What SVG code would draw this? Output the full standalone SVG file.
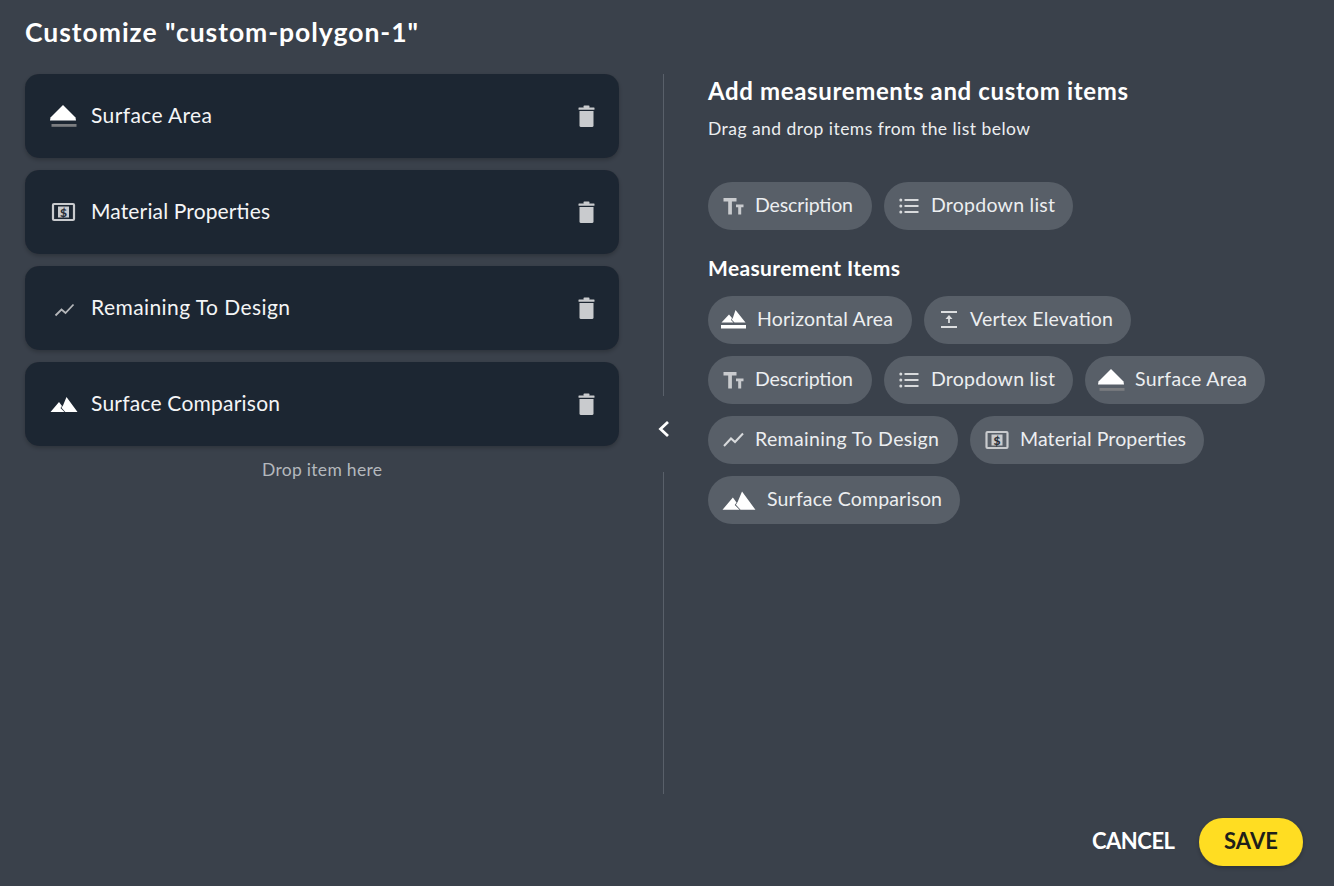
<svg xmlns="http://www.w3.org/2000/svg" width="1334" height="886" viewBox="0 0 1334 886">
<style>
text{font-family:"Lato","Noto Sans","Liberation Sans",sans-serif}
.card{fill:#1f2733;filter:url(#sh)}
.chip{fill:#585f68}
.ct{font-size:21px;fill:#f4f5f6}
.cl{font-size:19.5px;fill:#eceef0}
.div{stroke:#59606a;stroke-width:1;fill:none}
.ic{fill:#c9cbce}
.w{fill:#fff}
</style>
<defs>
<filter id="sh" x="-5%" y="-10%" width="110%" height="125%"><feDropShadow dx="0" dy="2" stdDeviation="2" flood-color="#000" flood-opacity=".22"/></filter>
<filter id="sh2" x="-15%" y="-20%" width="130%" height="150%"><feDropShadow dx="0" dy="2" stdDeviation="2" flood-color="#000" flood-opacity=".25"/></filter>
<g id="i-surface"><path class="w" d="M0 12.500 12.500 0 25 12.500 25.500 15.500H-.5z"/><rect x="1" y="19" width="25" height="2.800" fill="#7b7d80"/></g>
<g id="i-money"><rect x="1" y="1" width="21" height="16" rx="1" fill="none" stroke="#c9cbce" stroke-width="2.200"/><rect x="6" y="3.500" width="11" height="11" fill="#c9cbce"/><text x="11.500" y="13.500" font-size="12" font-weight="900" text-anchor="middle" fill="#2a3039">$</text></g>
<path id="i-trend" d="M0 12.500 6 6.500 10 10 18 1.500" fill="none" stroke="#b5b7ba" stroke-width="1.800"/>
<path id="i-mount" d="M0 15 8.500 5 11.500 9 10 11 14 15zM14.800 15 11 10.800 12.500 8.500 16 0 27 15z" fill="#fff"/>
<g id="i-tt"><path class="ic" d="M0 0h13v3.500H8.400v13H4.700v-13H0zM12.500 6.500H20v2.700h-2.300v7.300h-3v-7.300h-2.200z"/></g>
<g id="i-list" fill="#d8dadc"><circle cx="1.300" cy="1.500" r="1.500"/><circle cx="1.300" cy="7.500" r="1.500"/><circle cx="1.300" cy="13.500" r="1.500"/><rect x="5" y=".5" width="14" height="2"/><rect x="5" y="6.500" width="14" height="2"/><rect x="5" y="12.500" width="14" height="2"/></g>
<g id="i-trash" fill="#c9cbce"><path d="M1 6h14v14.500a1.500 1.500 0 0 1-1.500 1.500h-11A1.500 1.500 0 0 1 1 20.500z"/><rect x="0" y="2.500" width="16" height="2.300" rx=".5"/><rect x="5" y=".6" width="6" height="2.500" rx=".8"/></g>
</defs>
<rect width="1334" height="886" fill="#3a414b"/>
<text id="title" x="25" y="42" font-size="26.500" font-weight="700" fill="#fff" textLength="393" lengthAdjust="spacing">Customize "custom-polygon-1"</text>

<g id="card-surface-area"><rect class="card" x="25" y="74" width="594" height="84" rx="14"/><use href="#i-surface" transform="translate(50.500 105)"/><text class="ct" x="91" y="123" textLength="121" lengthAdjust="spacing">Surface Area</text><use href="#i-trash" transform="translate(578.500 105)"/></g>
<g id="card-material"><rect class="card" x="25" y="170" width="594" height="84" rx="14"/><use href="#i-money" transform="translate(52 203)"/><text class="ct" x="91" y="219" textLength="179" lengthAdjust="spacing">Material Properties</text><use href="#i-trash" transform="translate(578.500 201)"/></g>
<g id="card-remaining"><rect class="card" x="25" y="266" width="594" height="84" rx="14"/><use href="#i-trend" transform="translate(55.500 303)"/><text class="ct" x="91" y="315" textLength="199" lengthAdjust="spacing">Remaining To Design</text><use href="#i-trash" transform="translate(578.500 297)"/></g>
<g id="card-comparison"><rect class="card" x="25" y="362" width="594" height="84" rx="14"/><use href="#i-mount" transform="translate(50.500 397)"/><text class="ct" x="91" y="411" textLength="189" lengthAdjust="spacing">Surface Comparison</text><use href="#i-trash" transform="translate(578.500 393)"/></g>
<text id="drop-hint" x="262" y="476" font-size="17.500" fill="#b4b8bd" textLength="120" lengthAdjust="spacing">Drop item here</text>

<g id="divider"><path class="div" d="M663.500 74V396M663.500 472V794"/><path d="M668 422 660.500 429 668 436" fill="none" stroke="#fff" stroke-width="2.800"/></g>

<text id="heading" x="708" y="100" font-size="24" font-weight="700" fill="#fff" textLength="420" lengthAdjust="spacing">Add measurements and custom items</text>
<text id="subheading" x="708" y="135" font-size="17.500" fill="#eceef0" textLength="322" lengthAdjust="spacing">Drag and drop items from the list below</text>
<text id="section" x="708" y="276" font-size="21" font-weight="700" fill="#fff" textLength="192" lengthAdjust="spacing">Measurement Items</text>

<g id="chip-description-1"><rect class="chip" x="708" y="182" width="164" height="48" rx="24"/><use href="#i-tt" transform="translate(723.500 198)"/><text class="cl" x="755" y="212" textLength="98" lengthAdjust="spacing">Description</text></g>
<g id="chip-dropdown-1"><rect class="chip" x="884" y="182" width="189" height="48" rx="24"/><use href="#i-list" transform="translate(899.500 198.500)"/><text class="cl" x="931" y="212" textLength="124" lengthAdjust="spacing">Dropdown list</text></g>

<g id="chip-horizontal"><rect class="chip" x="708" y="296" width="204" height="48" rx="24"/><path d="M721.500 322.500 729 314.500 732 318 731 320 733.500 322.500zM734.500 322.500 731.800 319.800 733 317.500 735.500 310 745.500 322.500z" fill="#fff"/><rect x="721" y="325" width="25" height="3.500" fill="#fff"/><text class="cl" x="757" y="326" textLength="136" lengthAdjust="spacing">Horizontal Area</text></g>
<g id="chip-vertex"><rect class="chip" x="924" y="296" width="207" height="48" rx="24"/><path d="M941 312H957M941 327H957" stroke="#dcdee0" stroke-width="1.800"/><path d="M949 323V316" stroke="#dcdee0" stroke-width="1.800"/><path d="M945.500 319 949 315 952.500 319z" fill="#dcdee0"/><text class="cl" x="970" y="326" textLength="143" lengthAdjust="spacing">Vertex Elevation</text></g>

<g id="chip-description-2"><rect class="chip" x="708" y="356" width="164" height="48" rx="24"/><use href="#i-tt" transform="translate(723.500 372)"/><text class="cl" x="755" y="386" textLength="98" lengthAdjust="spacing">Description</text></g>
<g id="chip-dropdown-2"><rect class="chip" x="884" y="356" width="189" height="48" rx="24"/><use href="#i-list" transform="translate(899.500 372.500)"/><text class="cl" x="931" y="386" textLength="124" lengthAdjust="spacing">Dropdown list</text></g>
<g id="chip-surface"><rect class="chip" x="1085" y="356" width="180" height="48" rx="24"/><use href="#i-surface" transform="translate(1098.500 369)"/><text class="cl" x="1135" y="386" textLength="112" lengthAdjust="spacing">Surface Area</text></g>

<g id="chip-remaining"><rect class="chip" x="708" y="416" width="250" height="48" rx="24"/><path d="M724 446 731 438.500 735 442 743 433.500" fill="none" stroke="#d8dadc" stroke-width="2"/><text class="cl" x="755" y="446" textLength="184" lengthAdjust="spacing">Remaining To Design</text></g>
<g id="chip-material"><rect class="chip" x="970" y="416" width="234" height="48" rx="24"/><use href="#i-money" transform="translate(985.500 431)"/><text class="cl" x="1020" y="446" textLength="166" lengthAdjust="spacing">Material Properties</text></g>

<g id="chip-comparison"><rect class="chip" x="708" y="476" width="252" height="48" rx="24"/><use href="#i-mount" transform="translate(722.500 491.500) scale(1.220)"/><text class="cl" x="767" y="506" textLength="175" lengthAdjust="spacing">Surface Comparison</text></g>

<text id="cancel" x="1092" y="849" font-size="22" font-weight="700" fill="#fff" textLength="83" lengthAdjust="spacing">CANCEL</text>
<g id="save"><rect x="1199" y="818" width="104" height="48" rx="24" fill="#ffdd24" filter="url(#sh2)"/><text x="1224" y="849" font-size="22" font-weight="700" fill="#1f1f1a" textLength="54" lengthAdjust="spacing">SAVE</text></g>
</svg>
